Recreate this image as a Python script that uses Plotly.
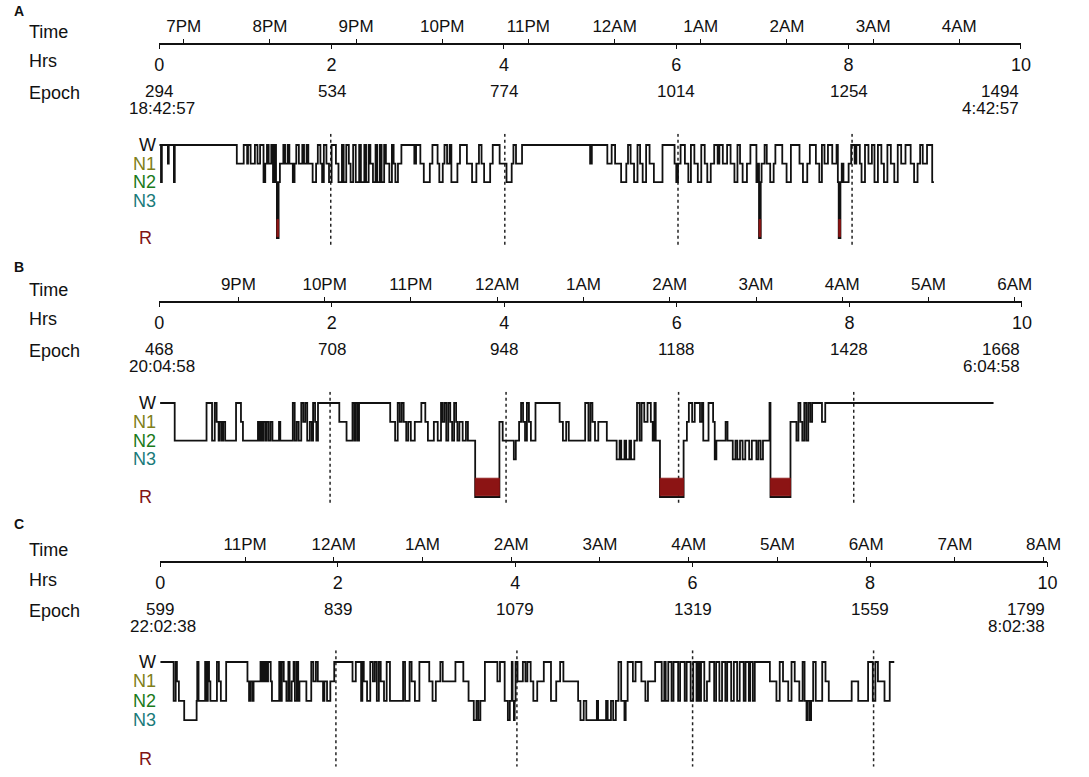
import plotly.graph_objects as go

# reference canvas (pixels); the page body margin is removed so figure pixels = page pixels
W, H = 1089, 777
OFF = 0
FW, FH = W, H

# ---------------- DATA ----------------
panel_letters = ["A", "B", "C"]
start_clock = ["18:42:57", "20:04:58", "22:02:38"]
end_clock = ["4:42:57", "6:04:58", "8:02:38"]
start_epoch = [294, 468, 599]
hrs_ticks = [0, 2, 4, 6, 8, 10]
time_labels_a = ["7PM", "8PM", "9PM", "10PM", "11PM", "12AM", "1AM", "2AM", "3AM", "4AM"]
time_labels_b = ["9PM", "10PM", "11PM", "12AM", "1AM", "2AM", "3AM", "4AM", "5AM", "6AM"]
time_labels_c = ["11PM", "12AM", "1AM", "2AM", "3AM", "4AM", "5AM", "6AM", "7AM", "8AM"]
stage_names = ["W", "N1", "N2", "N3", "R"]
stage_level = {"W": 0, "N1": 1, "N2": 2, "N3": 3, "R": 5}
stage_colors = ["#111111", "#7f7f1a", "#1a7a1a", "#1a7a7a", "#7f1414"]

# dotted reference lines (hours)
dotted_a = [1.99, 4.01, 6.02, 8.04]
dotted_b = [1.98, 4.02, 6.02, 8.05]
dotted_c = [1.98, 4.02, 6.00, 8.04]

# hypnogram segments: (start hour, stage); end_* is the recording end
hyp_a = [(0.00, 'W'), (0.02, 'N2'), (0.03, 'W'), (0.10, 'N1'), (0.11, 'W'), (0.17, 'N2'), (0.18, 'W'),
         (0.90, 'N1'), (0.98, 'W'), (1.02, 'N1'), (1.03, 'W'), (1.06, 'N1'), (1.11, 'W'), (1.14, 'N1'),
         (1.17, 'W'), (1.21, 'N2'), (1.23, 'N1'), (1.25, 'W'), (1.27, 'N1'), (1.30, 'W'), (1.32, 'N2'),
         (1.34, 'W'), (1.355, 'N2'), (1.365, 'R'), (1.385, 'N2'), (1.40, 'N1'), (1.44, 'W'), (1.46, 'N1'),
         (1.49, 'W'), (1.51, 'N1'), (1.55, 'N2'), (1.57, 'N1'), (1.59, 'W'), (1.62, 'N1'), (1.66, 'W'),
         (1.68, 'N1'), (1.71, 'W'), (1.73, 'N1'), (1.78, 'N2'), (1.82, 'N1'), (1.84, 'W'), (1.87, 'N1'),
         (1.89, 'N2'), (1.91, 'W'), (1.94, 'N1'), (1.97, 'N2'), (2.00, 'W'), (2.05, 'N1'), (2.08, 'N2'),
         (2.12, 'W'), (2.14, 'N2'), (2.17, 'W'), (2.20, 'N1'), (2.22, 'N2'), (2.25, 'W'), (2.28, 'N2'),
         (2.32, 'W'), (2.34, 'N2'), (2.38, 'W'), (2.40, 'N2'), (2.43, 'W'), (2.45, 'N1'), (2.48, 'N2'),
         (2.51, 'W'), (2.53, 'N2'), (2.56, 'W'), (2.58, 'N2'), (2.61, 'W'), (2.63, 'N1'), (2.67, 'N2'),
         (2.70, 'W'), (2.72, 'N1'), (2.74, 'N2'), (2.77, 'N1'), (2.81, 'W'), (2.96, 'N1'), (2.98, 'W'),
         (3.03, 'N1'), (3.07, 'N2'), (3.14, 'N1'), (3.17, 'W'), (3.23, 'N1'), (3.25, 'N2'), (3.29, 'N1'),
         (3.31, 'W'), (3.34, 'N1'), (3.37, 'W'), (3.39, 'N2'), (3.46, 'N1'), (3.49, 'W'), (3.57, 'N1'),
         (3.63, 'N2'), (3.68, 'N1'), (3.71, 'W'), (3.74, 'N1'), (3.77, 'N2'), (3.84, 'N1'), (3.87, 'W'),
         (3.95, 'N1'), (4.03, 'N2'), (4.09, 'N1'), (4.11, 'W'), (4.14, 'N1'), (4.21, 'W'), (5.00, 'N1'),
         (5.02, 'W'), (5.20, 'N1'), (5.25, 'W'), (5.29, 'N1'), (5.36, 'N2'), (5.42, 'N1'), (5.44, 'W'),
         (5.47, 'N1'), (5.51, 'N2'), (5.55, 'W'), (5.58, 'N1'), (5.61, 'N2'), (5.65, 'W'), (5.69, 'N1'),
         (5.74, 'N2'), (5.84, 'W'), (5.98, 'N1'), (6.00, 'N2'), (6.02, 'N1'), (6.05, 'W'), (6.10, 'N1'),
         (6.14, 'N2'), (6.17, 'W'), (6.21, 'N1'), (6.25, 'N2'), (6.29, 'W'), (6.33, 'N1'), (6.36, 'N2'),
         (6.40, 'N1'), (6.44, 'W'), (6.48, 'N1'), (6.50, 'W'), (6.54, 'N1'), (6.59, 'W'), (6.63, 'N1'),
         (6.675, 'N2'), (6.71, 'W'), (6.74, 'N1'), (6.77, 'N2'), (6.82, 'N1'), (6.86, 'W'), (6.93, 'N2'),
         (6.95, 'N1'), (6.96, 'R'), (6.98, 'N2'), (6.99, 'N1'), (7.025, 'W'), (7.05, 'N1'), (7.09, 'N2'),
         (7.13, 'N1'), (7.15, 'W'), (7.23, 'N1'), (7.28, 'N2'), (7.33, 'W'), (7.43, 'N1'), (7.47, 'N2'),
         (7.52, 'N1'), (7.55, 'W'), (7.62, 'N1'), (7.66, 'N2'), (7.69, 'W'), (7.72, 'N1'), (7.76, 'W'),
         (7.81, 'N1'), (7.86, 'W'), (7.875, 'N2'), (7.885, 'R'), (7.905, 'N2'), (7.92, 'N1'), (7.94, 'N2'),
         (8.00, 'N1'), (8.03, 'W'), (8.07, 'N1'), (8.09, 'W'), (8.13, 'N1'), (8.15, 'N2'), (8.19, 'W'),
         (8.23, 'N1'), (8.27, 'W'), (8.30, 'N2'), (8.34, 'W'), (8.38, 'N1'), (8.41, 'N2'), (8.45, 'W'),
         (8.49, 'N1'), (8.53, 'N2'), (8.57, 'W'), (8.61, 'N1'), (8.66, 'W'), (8.72, 'N1'), (8.76, 'N2'),
         (8.80, 'N1'), (8.83, 'W'), (8.86, 'N1'), (8.91, 'W'), (8.97, 'N2')]
end_a = 8.99

hyp_b = [(0.01, 'W'), (0.179, 'N2'), (0.548, 'W'), (0.612, 'N2'), (0.643, 'W'), (0.665, 'N1'), (0.688, 'N2'),
         (0.703, 'N1'), (0.726, 'N2'), (0.741, 'N1'), (0.764, 'N2'), (0.890, 'W'), (0.947, 'N1'), (0.970, 'N2'),
         (1.144, 'N1'), (1.160, 'N2'), (1.175, 'N1'), (1.190, 'N2'), (1.205, 'N1'), (1.228, 'N2'), (1.243, 'N1'),
         (1.266, 'N2'), (1.289, 'N1'), (1.312, 'N2'), (1.388, 'N1'), (1.403, 'N2'), (1.548, 'W'), (1.570, 'N2'),
         (1.593, 'N1'), (1.616, 'N2'), (1.646, 'W'), (1.669, 'N1'), (1.692, 'W'), (1.715, 'N2'), (1.745, 'N1'),
         (1.768, 'N2'), (1.783, 'W'), (1.806, 'N1'), (1.821, 'N2'), (1.840, 'W'), (2.087, 'N1'), (2.171, 'N2'),
         (2.240, 'W'), (2.262, 'N2'), (2.278, 'W'), (2.300, 'N2'), (2.316, 'W'), (2.677, 'N1'), (2.734, 'N2'),
         (2.764, 'W'), (2.787, 'N1'), (2.810, 'W'), (2.833, 'N1'), (2.863, 'N2'), (2.886, 'N1'), (2.916, 'N2'),
         (2.962, 'N1'), (3.038, 'W'), (3.084, 'N1'), (3.114, 'N2'), (3.183, 'N1'), (3.228, 'N2'), (3.266, 'W'),
         (3.281, 'N1'), (3.304, 'W'), (3.327, 'N2'), (3.350, 'W'), (3.373, 'N1'), (3.395, 'N2'), (3.418, 'W'),
         (3.441, 'N1'), (3.456, 'N2'), (3.479, 'N1'), (3.517, 'N2'), (3.555, 'N1'), (3.578, 'N2'), (3.662, 'R'),
         (3.943, 'N1'), (3.981, 'N2'), (4.110, 'N3'), (4.133, 'N2'), (4.171, 'N1'), (4.194, 'W'), (4.217, 'N1'),
         (4.240, 'N2'), (4.262, 'W'), (4.285, 'N1'), (4.308, 'N2'), (4.361, 'W'), (4.641, 'N1'), (4.679, 'N2'),
         (4.717, 'N1'), (4.747, 'N2'), (4.937, 'W'), (4.975, 'N2'), (4.998, 'W'), (5.021, 'N1'), (5.051, 'N2'),
         (5.089, 'N1'), (5.188, 'N2'), (5.302, 'N3'), (5.336, 'N2'), (5.355, 'N3'), (5.393, 'N2'), (5.412, 'N3'),
         (5.450, 'N2'), (5.469, 'N3'), (5.507, 'N2'), (5.538, 'W'), (5.568, 'N2'), (5.591, 'W'), (5.622, 'N1'),
         (5.660, 'W'), (5.698, 'N1'), (5.720, 'N2'), (5.740, 'W'), (5.755, 'N2'), (5.804, 'R'), (6.078, 'N2'),
         (6.116, 'N1'), (6.139, 'W'), (6.177, 'N1'), (6.207, 'W'), (6.268, 'N1'), (6.291, 'W'), (6.306, 'N2'),
         (6.367, 'W'), (6.420, 'N1'), (6.439, 'N3'), (6.458, 'N2'), (6.565, 'N1'), (6.587, 'N2'), (6.648, 'N3'),
         (6.679, 'N2'), (6.701, 'N3'), (6.732, 'N2'), (6.762, 'N3'), (6.793, 'N2'), (6.838, 'N3'), (6.869, 'N2'),
         (6.922, 'N3'), (6.945, 'N2'), (6.971, 'N3'), (6.998, 'N2'), (7.074, 'W'), (7.085, 'R'), (7.317, 'N1'),
         (7.386, 'N2'), (7.409, 'W'), (7.432, 'N1'), (7.454, 'N2'), (7.477, 'W'), (7.500, 'N2'), (7.523, 'W'),
         (7.546, 'N1'), (7.568, 'W'), (7.682, 'N1'), (7.720, 'W')]
end_b = 9.671

hyp_c = [(0.00, 'W'), (0.151, 'N2'), (0.174, 'W'), (0.188, 'N1'), (0.210, 'N2'), (0.270, 'N3'), (0.410, 'N2'),
         (0.417, 'W'), (0.432, 'N2'), (0.506, 'W'), (0.521, 'N2'), (0.536, 'W'), (0.550, 'N1'), (0.565, 'N2'),
         (0.639, 'W'), (0.661, 'N1'), (0.683, 'N2'), (0.743, 'W'), (0.983, 'N1'), (1.001, 'N2'), (1.016, 'N1'),
         (1.038, 'N2'), (1.052, 'N1'), (1.130, 'W'), (1.141, 'N1'), (1.156, 'W'), (1.171, 'N1'), (1.186, 'W'),
         (1.200, 'N1'), (1.215, 'W'), (1.245, 'N1'), (1.259, 'N2'), (1.341, 'W'), (1.356, 'N2'), (1.370, 'W'),
         (1.392, 'N1'), (1.422, 'N2'), (1.444, 'W'), (1.458, 'N2'), (1.481, 'N1'), (1.503, 'W'), (1.518, 'N2'),
         (1.540, 'W'), (1.555, 'N2'), (1.569, 'N1'), (1.647, 'N2'), (1.702, 'W'), (1.725, 'N1'), (1.754, 'W'),
         (1.776, 'N1'), (1.835, 'N2'), (1.850, 'N1'), (1.880, 'N2'), (1.917, 'N1'), (1.961, 'W'), (2.167, 'N1'),
         (2.204, 'W'), (2.264, 'N2'), (2.278, 'W'), (2.294, 'N1'), (2.331, 'N2'), (2.367, 'W'), (2.397, 'N1'),
         (2.419, 'W'), (2.441, 'N2'), (2.464, 'W'), (2.485, 'N1'), (2.522, 'N2'), (2.552, 'W'), (2.589, 'N2'),
         (2.737, 'W'), (2.759, 'N2'), (2.810, 'W'), (2.833, 'N1'), (2.870, 'N2'), (2.921, 'W'), (3.032, 'N1'),
         (3.069, 'N2'), (3.106, 'N1'), (3.157, 'W'), (3.184, 'N1'), (3.327, 'W'), (3.416, 'N1'), (3.475, 'N2'),
         (3.534, 'N3'), (3.564, 'N2'), (3.585, 'N3'), (3.608, 'N2'), (3.659, 'W'), (3.800, 'N1'), (3.829, 'W'),
         (3.882, 'N2'), (3.918, 'N3'), (3.940, 'N2'), (3.962, 'W'), (3.971, 'N2'), (3.986, 'N3'), (3.995, 'N2'),
         (4.005, 'W'), (4.027, 'N1'), (4.087, 'W'), (4.116, 'N1'), (4.138, 'W'), (4.175, 'N1'), (4.205, 'N2'),
         (4.249, 'N1'), (4.323, 'W'), (4.404, 'N2'), (4.463, 'N1'), (4.507, 'W'), (4.544, 'N1'), (4.710, 'N2'),
         (4.736, 'N3'), (4.773, 'N2'), (4.802, 'N3'), (4.921, 'N2'), (4.935, 'N3'), (5.025, 'N2'), (5.043, 'N3'),
         (5.080, 'N2'), (5.105, 'N3'), (5.135, 'N2'), (5.165, 'W'), (5.195, 'N2'), (5.232, 'N3'), (5.246, 'N2'),
         (5.268, 'W'), (5.327, 'N1'), (5.357, 'W'), (5.423, 'N1'), (5.468, 'N2'), (5.497, 'N1'), (5.578, 'W'),
         (5.652, 'N2'), (5.681, 'W'), (5.697, 'N2'), (5.726, 'W'), (5.763, 'N2'), (5.785, 'W'), (5.837, 'N2'),
         (5.859, 'W'), (5.911, 'N2'), (5.933, 'W'), (5.978, 'N2'), (6.007, 'W'), (6.044, 'N2'), (6.058, 'W'),
         (6.077, 'N2'), (6.095, 'W'), (6.132, 'N2'), (6.162, 'N1'), (6.191, 'W'), (6.243, 'N2'), (6.265, 'W'),
         (6.302, 'N2'), (6.332, 'W'), (6.369, 'N2'), (6.390, 'W'), (6.435, 'N2'), (6.465, 'W'), (6.502, 'N2'),
         (6.531, 'W'), (6.576, 'N2'), (6.597, 'W'), (6.634, 'N2'), (6.649, 'W'), (6.679, 'N2'), (6.701, 'W'),
         (6.871, 'N1'), (6.945, 'N2'), (6.982, 'W'), (7.019, 'N1'), (7.078, 'N2'), (7.115, 'W'), (7.151, 'N1'),
         (7.203, 'N2'), (7.240, 'W'), (7.262, 'N2'), (7.284, 'N3'), (7.299, 'N2'), (7.322, 'N3'), (7.336, 'N2'),
         (7.359, 'W'), (7.388, 'N2'), (7.461, 'W'), (7.498, 'N1'), (7.535, 'N2'), (7.793, 'N1'), (7.867, 'N2'),
         (7.978, 'W'), (8.031, 'N2'), (8.060, 'W'), (8.089, 'N1'), (8.163, 'N2'), (8.222, 'W')]
end_c = 8.273

hyps = [hyp_a, hyp_b, hyp_c]
ends = [end_a, end_b, end_c]
dotted = [dotted_a, dotted_b, dotted_c]
time_labels = [time_labels_a, time_labels_b, time_labels_c]

# ---------------- LAYOUT GEOMETRY (reference pixels) ----------------
axis_y = [43.5, 301.5, 561.5]     # header axis line
letter_y = [11, 267, 524]
w_y = [145, 403, 662]             # W level
r_y = [238, 497, 759]             # R level
x_span = [(157, 1034), (157, 1035), (158, 1061)]
YMIN, YMAX = -0.6, 5.4
FONT = "Liberation Sans, Arial, sans-serif"
INK = "#111111"


def clamp(v):
    return max(0.0, min(1.0, v))


def py(y):
    return clamp(1 - (y - OFF) / FH)


def px(x):
    return clamp((x - OFF) / FW)


fig = go.Figure()
layout = dict(width=FW, height=FH, margin=dict(l=0, r=0, t=0, b=0),
              paper_bgcolor="white", plot_bgcolor="rgba(0,0,0,0)",
              showlegend=False, font=dict(family=FONT, color=INK))
annotations = []

for i in range(3):
    xa = f"x{3*i+1}" if i > 0 else "x"
    xa_h = f"x{3*i+2}"
    xa_t = f"x{3*i+3}"
    ya = f"y{i+1}" if i > 0 else "y"
    s = (r_y[i] - w_y[i]) / 5.0
    top = w_y[i] + YMIN * s
    bot = w_y[i] + YMAX * s
    xdom = [px(x_span[i][0]), px(x_span[i][1])]
    a = axis_y[i]

    layout["xaxis" if i == 0 else f"xaxis{3*i+1}"] = dict(
        domain=xdom, range=[0, 10], visible=False, anchor=ya, fixedrange=True)
    layout["yaxis" if i == 0 else f"yaxis{i+1}"] = dict(
        domain=[py(bot), py(top)], range=[YMAX, YMIN], visible=False, anchor=xa, fixedrange=True)

    hh, mm, ss = [int(v) for v in start_clock[i].split(":")]
    first = (60 - mm - ss / 60.0) / 60.0
    tvals = [first + k for k in range(len(time_labels[i]))]

    layout[f"xaxis{3*i+2}"] = dict(
        overlaying=xa, anchor="free", position=py(a), side="bottom", domain=xdom,
        range=[0, 10], showline=True, linecolor=INK, linewidth=1.7,
        ticks="outside", ticklen=5, tickwidth=1.4, tickcolor=INK,
        tickvals=hrs_ticks, ticktext=[str(v) for v in hrs_ticks],
        tickfont=dict(size=18, family=FONT, color=INK), showgrid=False, zeroline=False,
        fixedrange=True)
    layout[f"xaxis{3*i+3}"] = dict(
        overlaying=xa, anchor="free", position=py(a), side="top", domain=xdom,
        range=[0, 10], showline=False,
        ticks="outside", ticklen=5, tickwidth=1.4, tickcolor=INK,
        tickvals=tvals, ticktext=time_labels[i],
        tickfont=dict(size=17, family=FONT, color=INK), showgrid=False, zeroline=False,
        fixedrange=True)

    for xx in (xa_h, xa_t):
        fig.add_trace(go.Scatter(x=[0, 10], y=[None, None], mode="lines", xaxis=xx, yaxis=ya,
                                 hoverinfo="skip", showlegend=False))

    dx, dy = [], []
    for v in dotted[i]:
        dx += [v, v, None]
        dy += [YMIN, YMAX, None]
    fig.add_trace(go.Scatter(x=dx, y=dy, mode="lines", xaxis=xa, yaxis=ya,
                             line=dict(color="#222222", width=1.5, dash="dot"), hoverinfo="skip"))

    seg = hyps[i]
    hx = [t for t, _ in seg] + [ends[i]]
    hy = [stage_level[st] for _, st in seg] + [stage_level[seg[-1][1]]]
    fig.add_trace(go.Scatter(x=hx, y=hy, mode="lines", xaxis=xa, yaxis=ya,
                             line=dict(color=INK, width=1.8, shape="hv"), hoverinfo="skip"))

    rx, ry = [], []
    for k, (t, st) in enumerate(seg):
        if st == "R":
            t1 = seg[k + 1][0] if k + 1 < len(seg) else ends[i]
            rx += [t, t, t1, t1, t, None]
            ry += [4, 4.93, 4.93, 4, 4, None]
    if rx:
        fig.add_trace(go.Scatter(x=rx, y=ry, mode="lines", fill="toself", xaxis=xa, yaxis=ya,
                                 fillcolor="#8c1414", line=dict(color="#8c1414", width=0.8),
                                 hoverinfo="skip"))

    annotations.append(dict(text=f"<b>{panel_letters[i]}</b>", x=px(7), y=py(letter_y[i]),
                            xref="paper", yref="paper", xanchor="left", yanchor="middle",
                            showarrow=False, font=dict(size=14, family=FONT, color=INK)))
    for lab, dyy in (("Time", -12), ("Hrs", 18), ("Epoch", 49)):
        annotations.append(dict(text=lab, x=px(22), y=py(a + dyy), xref="paper", yref="paper",
                                xanchor="left", yanchor="middle", showarrow=False,
                                font=dict(size=18, family=FONT, color=INK)))
    for k, hv in enumerate(hrs_ticks):
        ep = start_epoch[i] + 120 * hv
        anchor = "right" if k == len(hrs_ticks) - 1 else "center"
        annotations.append(dict(text=str(ep), x=hv, y=py(a + 48), xref=xa, yref="paper",
                                xanchor=anchor, yanchor="middle", showarrow=False,
                                font=dict(size=17, family=FONT, color=INK)))
    annotations.append(dict(text=start_clock[i], x=0.03, y=py(a + 65), xref=xa, yref="paper",
                            xanchor="center", yanchor="middle", showarrow=False,
                            font=dict(size=17, family=FONT, color=INK)))
    annotations.append(dict(text=end_clock[i], x=10, y=py(a + 65), xref=xa, yref="paper",
                            xanchor="right", yanchor="middle", showarrow=False,
                            font=dict(size=17, family=FONT, color=INK)))
    for name, col in zip(stage_names, stage_colors):
        lv = stage_level[name]
        annotations.append(dict(text=name, x=px(156 if name != "R" else 152), y=lv, xref="paper", yref=ya,
                                xanchor="right", yanchor="middle", showarrow=False,
                                font=dict(size=18, family=FONT, color=col)))

layout["annotations"] = annotations
fig.update_layout(**layout)
fig.write_html("out.html", config={"displayModeBar": False},
               post_script="document.body.style.margin='0';document.body.style.overflow='hidden';")
